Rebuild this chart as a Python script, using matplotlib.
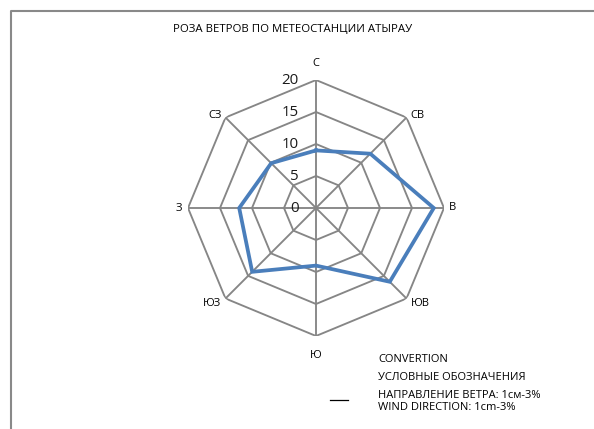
import matplotlib

matplotlib.use("Agg")
import matplotlib.pyplot as plt
import numpy as np
from matplotlib.lines import Line2D

plt.rcParams["font.family"] = ["Open Sans", "DejaVu Sans"]

# Wind rose, Atyrau station: frequency by direction, %
directions = ["С", "СВ", "В", "ЮВ", "Ю", "ЮЗ", "З", "СЗ"]
frequency = [9.0, 12.0, 18.4, 16.3, 9.0, 14.1, 12.0, 9.9]
rings = [5, 10, 15, 20]
tick_labels = ["0", "5", "10", "15", "20"]

title = "РОЗА ВЕТРОВ ПО МЕТЕОСТАНЦИИ АТЫРАУ"
legend_lines = ["CONVERTION", "УСЛОВНЫЕ ОБОЗНАЧЕНИЯ",
                "НАПРАВЛЕНИЕ ВЕТРА: 1см-3%", "WIND DIRECTION: 1cm-3%"]

GRID = "#868686"
LINE = "#4a7ebb"

fig = plt.figure(figsize=(5.94, 4.29), dpi=100)
ax = fig.add_axes([188 / 594, 93 / 429, 256 / 594, 256 / 429], polar=True)
ax.set_theta_zero_location("N")
ax.set_theta_direction(-1)
ax.set_ylim(0, 20)
ax.axis("off")

angles = np.linspace(0, 2 * np.pi, len(directions), endpoint=False)
closed = np.append(angles, angles[0])

# octagonal rings and spokes
for r in rings:
    ax.plot(closed, [r] * len(closed), color=GRID, lw=1.35, zorder=1)
for a in angles:
    ax.plot([a, a], [0, rings[-1]], color=GRID, lw=1.35, zorder=1)

vals = np.append(frequency, frequency[0])
ax.plot(closed, vals, color=LINE, lw=2.7, zorder=3, solid_joinstyle="miter")

# radial tick labels along the north spoke
for i, t in enumerate(tick_labels):
    ax.annotate(t, xy=(0, i * 5), xytext=(-17, 0), textcoords="offset pixels",
                ha="right", va="center", fontsize=10.8, color="#1a1a1a")

# direction labels around the outer ring
offsets = [(0, 16, "center"), (4, 2, "left"), (5, 0, "left"), (4, -5, "left"),
           (0, -19, "center"), (-4, -5, "right"), (-6, 0, "right"),
           (-4, 2, "right")]
for a, name, (dx, dy, ha) in zip(angles, directions, offsets):
    ax.annotate(name, xy=(a, rings[-1]), xytext=(dx, dy),
                textcoords="offset pixels", ha=ha, va="center",
                fontsize=8, color="black")

fig.text(293 / 594, 1 - 30 / 429, title, ha="center", va="center",
         fontsize=8.2, color="black")

ys = [360, 377, 395, 407]
for y, s in zip(ys, legend_lines):
    fig.text(378 / 594, 1 - y / 429, s, ha="left", va="center",
             fontsize=8, color="black")
fig.add_artist(Line2D([330 / 594, 348 / 594], [1 - 400 / 429] * 2,
                      color="black", lw=0.9))

# chart area border (top and left edges)
fig.add_artist(Line2D([10.5 / 594, 10.5 / 594, 1], [0, 1 - 10.5 / 429, 1 - 10.5 / 429],
                      color="#898989", lw=1.5))

fig.savefig("out.png", dpi=100)
